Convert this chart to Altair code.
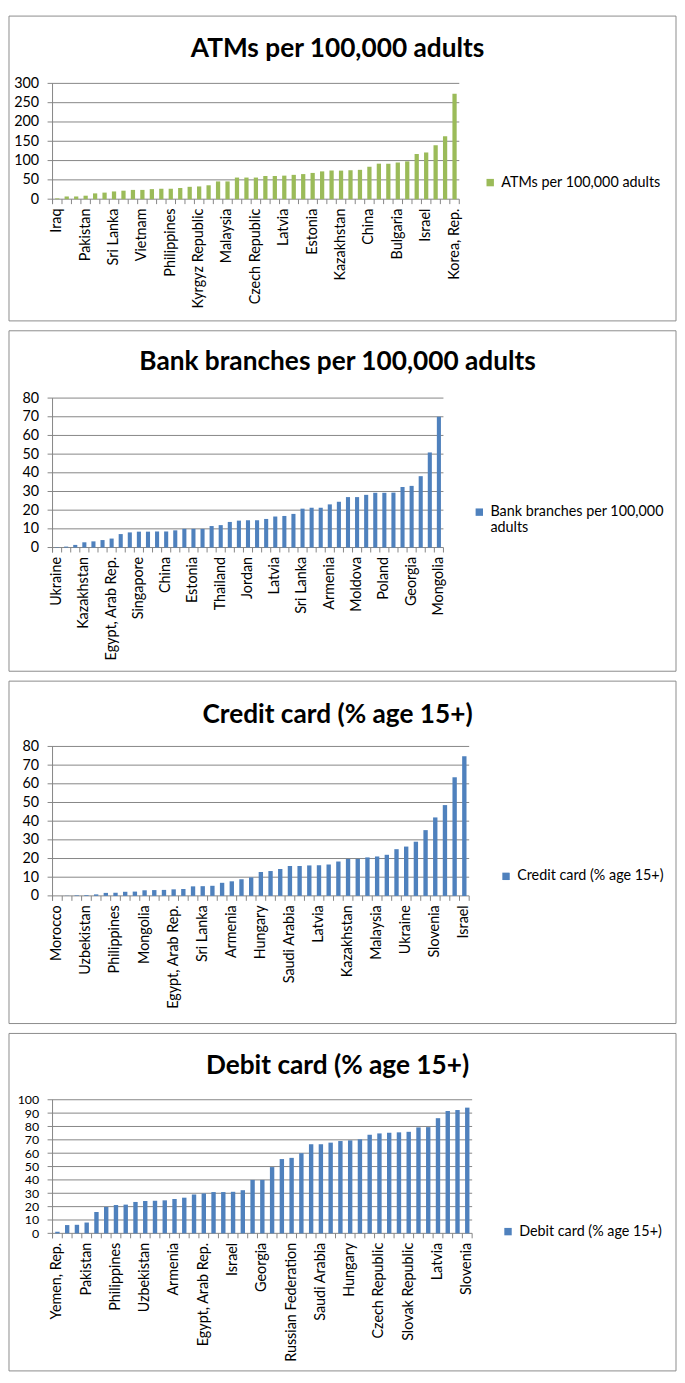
import altair as alt
import pandas as pd

FONT = "Lato"
GRID = "#868686"
FRAME = "#8c8c8c"

# ---------------- data ----------------
atm_title = "ATMs per 100,000 adults"
atm_values = [2, 7, 7, 9, 15, 17, 20, 22, 24, 24, 26, 27, 27, 29, 32, 33, 36, 46, 46, 56,
              56, 56, 60, 60, 61, 63, 65, 68, 72, 74, 74, 75, 76, 84, 92, 92, 95, 98, 117, 121,
              140, 163, 273]
atm_labels = ["Iraq", "Pakistan", "Sri Lanka", "Vietnam", "Philippines", "Kyrgyz Republic",
              "Malaysia", "Czech Republic", "Latvia", "Estonia", "Kazakhstan", "China",
              "Bulgaria", "Israel", "Korea, Rep."]

bank_title = "Bank branches per 100,000 adults"
bank_values = [0.2, 0.5, 1.4, 2.8, 3.3, 4.0, 4.8, 7.2, 8.1, 8.5, 8.5, 8.6, 8.6, 9.2, 10.0,
               10.0, 10.0, 11.5, 12.0, 13.7, 14.4, 14.6, 14.6, 15.3, 16.6, 16.9, 18.0, 20.8,
               21.3, 21.3, 23.1, 24.5, 27.0, 27.0, 28.2, 29.3, 29.3, 29.4, 32.4, 33.0, 38.2,
               50.9, 70.0]
bank_labels = ["Ukraine", "Kazakhstan", "Egypt, Arab Rep.", "Singapore", "China", "Estonia",
               "Thailand", "Jordan", "Latvia", "Sri Lanka", "Armenia", "Moldova", "Poland",
               "Georgia", "Mongolia"]

credit_title = "Credit card (% age 15+)"
credit_values = [0.0, 0.1, 0.3, 0.4, 0.8, 1.6, 1.7, 2.2, 2.3, 3.0, 3.1, 3.2, 3.5, 3.7, 5.1,
                 5.2, 5.4, 7.0, 7.8, 8.9, 9.9, 12.8, 13.3, 14.4, 16.0, 16.0, 16.3, 16.4, 16.8,
                 18.4, 19.8, 19.8, 20.6, 21.1, 22.0, 25.0, 26.4, 29.0, 35.2, 42.0, 48.6, 63.5,
                 74.8]
credit_labels = ["Morocco", "Uzbekistan", "Philippines", "Mongolia", "Egypt, Arab Rep.",
                 "Sri Lanka", "Armenia", "Hungary", "Saudi Arabia", "Latvia", "Kazakhstan",
                 "Malaysia", "Ukraine", "Slovenia", "Israel"]

debit_title = "Debit card (% age 15+)"
debit_values = [1.2, 6.2, 6.4, 8.1, 16.0, 19.8, 21.2, 21.5, 23.5, 24.2, 24.4, 24.7, 25.7,
                26.7, 29.1, 29.9, 30.9, 30.9, 31.1, 32.3, 40.0, 40.0, 49.6, 55.6, 56.5, 60.0,
                66.7, 66.7, 67.9, 69.1, 69.6, 70.4, 73.8, 74.8, 75.3, 75.6, 76.0, 79.3, 79.5,
                86.2, 91.6, 92.3, 94.1]
debit_labels = ["Yemen, Rep.", "Pakistan", "Philippines", "Uzbekistan", "Armenia",
                "Egypt, Arab Rep.", "Israel", "Georgia", "Russian Federation", "Saudi Arabia",
                "Hungary", "Czech Republic", "Slovak Republic", "Latvia", "Slovenia"]

LABEL_SIZE = 14.5


def panel(title, values, labels, color, w, h, ymax, ystep, top_rel, frame_h,
          title_rel, leg_x, leg_y, ysize=LABEL_SIZE, legend_lines=None):
    n = len(values)
    df = pd.DataFrame({"idx": list(range(n)), "value": values, "series": [title] * n})
    shown = [""] * n
    for k, name in enumerate(labels):
        shown[k * 3] = name
    expr = "[" + ",".join("'" + s + "'" for s in shown) + "][datum.value]"
    step = w / n
    ticks = list(range(0, ymax + 1, ystep))
    yscale = alt.Scale(domain=[0, ymax], nice=False)
    xscale = alt.Scale(paddingInner=0.55, paddingOuter=0.275)
    xaxis = alt.Axis(title=None, labelAngle=-90, labelExpr=expr, labelOverlap=False,
                     ticks=False, domain=False, labelPadding=9, grid=False,
                     labelFont=FONT, labelFontSize=LABEL_SIZE, labelColor="black")
    yaxis = alt.Axis(title=None, values=ticks, grid=False, ticks=False,
                     domain=False, labelPadding=14, labelFont=FONT,
                     labelOverlap=False, labelFontSize=ysize, labelColor="black")

    one = pd.DataFrame({"a": [0]})
    frame = alt.Chart(one).mark_rect(filled=False, stroke=FRAME, strokeWidth=1).encode(
        x=alt.value(-44), x2=alt.value(630),
        y=alt.value(-top_rel), y2=alt.value(frame_h - top_rel),
    )
    # horizontal gridlines (extending 5px left of the axis as tick marks)
    grid = alt.Chart(pd.DataFrame({"v": ticks})).mark_rule(color=GRID, strokeWidth=1).encode(
        y=alt.Y("v:Q", scale=yscale, axis=yaxis),
        x=alt.value(-5), x2=alt.value(w),
    )
    # vertical axis line
    yline = alt.Chart(one).mark_rule(color=GRID, strokeWidth=1).encode(
        x=alt.value(0), y=alt.value(0), y2=alt.value(h + 5)
    )
    # category boundary ticks below the x axis
    xticks = alt.Chart(df).mark_rule(color=GRID, strokeWidth=1, xOffset=-step / 2).encode(
        x=alt.X("idx:O", scale=xscale, axis=xaxis),
        y=alt.value(h), y2=alt.value(h + 5),
    )
    xtick_end = alt.Chart(one).mark_rule(color=GRID, strokeWidth=1).encode(
        x=alt.value(w), y=alt.value(h), y2=alt.value(h + 5)
    )
    ttl = alt.Chart(one).mark_text(font=FONT, fontSize=26.5, fontWeight="bold",
                                   align="center", baseline="middle", color="black").encode(
        x=alt.value(288), y=alt.value(title_rel - top_rel), text=alt.value(title)
    )
    leg_kwargs = dict(orient="none", legendX=leg_x, legendY=leg_y, title=None,
                      symbolType="square", symbolSize=56, symbolStrokeWidth=0,
                      labelFont=FONT, labelFontSize=LABEL_SIZE, labelColor="black",
                      labelLimit=400, padding=0, labelOffset=4)
    if legend_lines:
        leg_kwargs["labelExpr"] = "[" + ",".join("'" + s + "'" for s in legend_lines) + "]"
    bars = alt.Chart(df).mark_bar(color=color).encode(
        x=alt.X("idx:O", scale=xscale, axis=xaxis),
        y=alt.Y("value:Q", scale=yscale, axis=yaxis),
        color=alt.Color("series:N", scale=alt.Scale(domain=[title], range=[color]),
                        legend=alt.Legend(**leg_kwargs)),
    )
    return alt.layer(frame, grid, yline, xticks, xtick_end, bars, ttl).properties(
        width=w, height=h)


p1 = panel(atm_title, atm_values, atm_labels, "#9BBB59", 411, 117, 300, 50,
           68, 308, 33, 435, 93)
p2 = panel(bank_title, bank_values, bank_labels, "#4F81BD", 395, 151, 80, 10,
           68, 344, 32, 424, 108, legend_lines=["Bank branches per 100,000", "adults"])
p3 = panel(credit_title, credit_values, credit_labels, "#4F81BD", 421, 151, 80, 10,
           66, 346, 34, 451, 124)
p4 = panel(debit_title, debit_values, debit_labels, "#4F81BD", 424, 135, 100, 10,
           67, 341, 33, 453, 126, ysize=12.5)

chart = alt.vconcat(p1, p2, p3, p4, spacing=8).resolve_scale(
    color="independent", x="independent", y="independent"
).resolve_legend(color="independent").properties(padding=0).configure_view(stroke=None)

chart.save("out.html", embed_options={"renderer": "svg", "actions": False})
